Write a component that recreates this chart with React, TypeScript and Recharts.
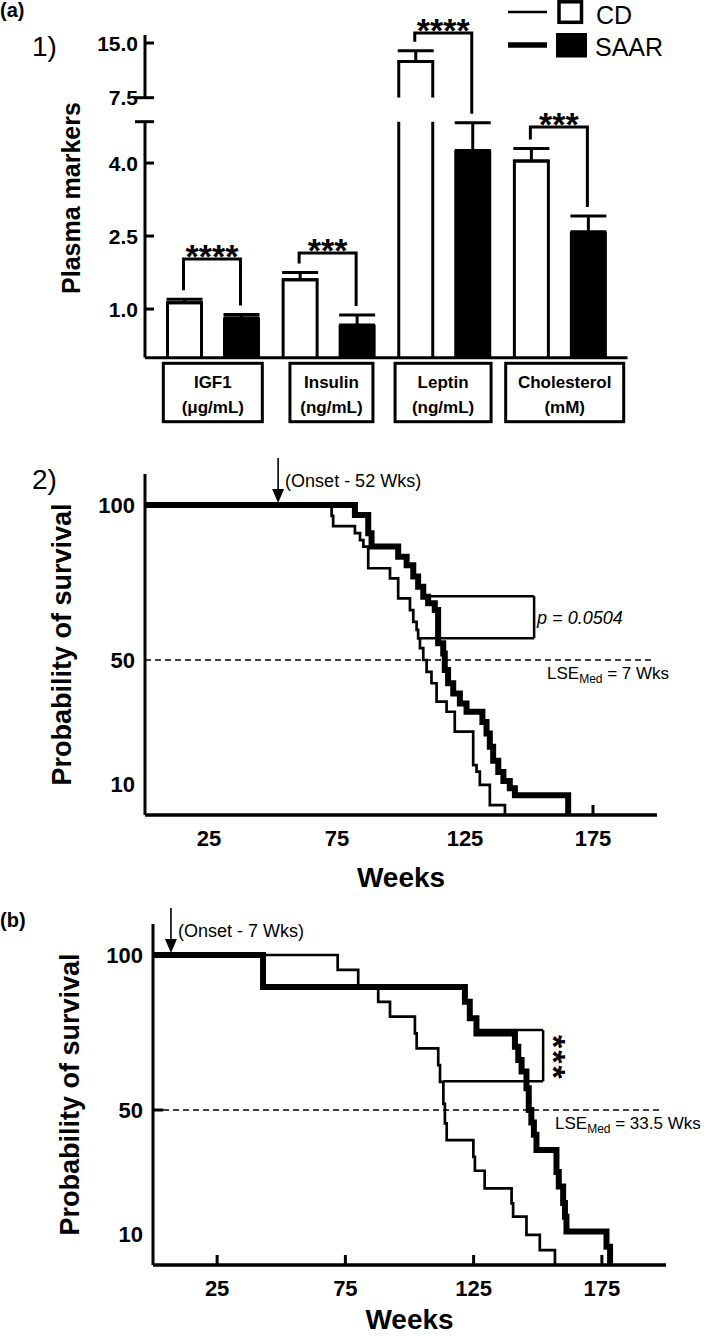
import React from "react";
import {
  BarChart,
  Bar,
  XAxis,
  YAxis,
  ErrorBar,
  LineChart,
  Line,
  ReferenceLine,
} from "recharts";

const FONT = "'Liberation Sans', Arial, Helvetica, sans-serif";
const INK = "#000";

// ---- (a) 1) plasma markers ----
const markers = ["IGF1", "Insulin", "Leptin", "Cholesterol"];
const markerUnits = ["(\u03bcg/mL)", "(ng/mL)", "(ng/mL)", "(mM)"];
const cdMean = [1.13, 1.6, 12.46, 4.04];
const cdErr = [0.07, 0.15, 1.48, 0.26];
const saarMean = [0.82, 0.67, 4.26, 2.59];
const saarErr = [0.07, 0.21, 0.57, 0.32];
const sigStars = ["****", "***", "****", "***"];
const upperTicks = [7.5, 15];
const lowerTicks = [1, 2.5, 4];

// ---- (a) 2) survival, onset at 52 wks ----
const a2CdWeeks = [0, 72.9, 73.5, 82, 84, 85.3, 87.2, 95.7, 98.9, 103.5, 104.8, 106.1, 106.7, 107.4, 108.7, 110, 111.9, 113.9, 117.8, 121, 128.2, 129.5, 130.8, 134.7, 140.6];
const a2CdSurv = [100, 96.5, 93.2, 90.9, 88.7, 86.6, 79.6, 76.3, 69.9, 66.1, 62.3, 59.7, 57, 53.8, 50, 46.2, 42.5, 36.6, 33.3, 26.9, 16.1, 14, 9.7, 3.2, 0];
const a2SaarWeeks = [0, 82, 87.2, 88.5, 98.9, 102.2, 104.8, 106.7, 108.7, 110.6, 113.2, 114.5, 116.5, 117.1, 118.4, 120.4, 123, 125.6, 131.8, 133.4, 134.7, 136, 138, 140, 142.5, 144.5, 165.3];
const a2SaarSurv = [100, 96.8, 90.9, 86.6, 83.3, 80.6, 76.9, 73.6, 70.4, 68.3, 66.1, 55.4, 52.1, 46.8, 42.5, 39.2, 36, 33.3, 30, 26.3, 22, 17.5, 13.9, 11, 8.6, 6.4, 0];

// ---- (b) survival, onset at 7 wks ----
const bCdWeeks = [0, 72, 80, 87.8, 92.4, 102.1, 102.8, 111.2, 111.9, 113.2, 113.8, 114.5, 124.9, 125.5, 129.3, 139.8, 140.4, 145.6, 150.8, 156.7];
const bCdSurv = [100, 95.2, 89.8, 84.9, 80.1, 74.7, 69.9, 64.5, 59.1, 52, 45.7, 40.3, 34.9, 30.4, 24.7, 19.9, 15.6, 9.7, 4.8, 0];
const bSaarWeeks = [0, 42.9, 121.6, 123.5, 126.1, 141.1, 142.4, 143.7, 145.6, 146.5, 147.5, 148.5, 149.5, 157.3, 158.2, 159.9, 160.6, 161.2, 176.8, 178.2];
const bSaarSurv = [100, 89.7, 84.9, 79.6, 74.7, 70.4, 66.1, 62.4, 57, 50, 46, 42, 37.1, 30, 25.3, 20, 15.6, 10.8, 5.9, 0];

const survTicksX = [25, 75, 125, 175];
const survTicksY = [10, 50, 100];

// ---- layout ----
const W = 709;
const AX = 145; // bar chart y axis
const AR = 627.5;
const UP_TOP = 35;
const UP_BOT = 97.7;
const UP_H = 110;
const LO_TOP = 121.7;
const LO_BOT = 357.7;
const LO_H = 330;
const UP_DOMAIN: [number, number] = [7.5, 16.1];
const LO_MAX = 4.85;
const BAR_W = 37;
const BAR_GAP = 20;
const BAND_L = AX + 10;
const BAND = (AR - 10 - BAND_L) / 4;
const groupOff = Math.floor((BAND - 2 * BAR_W - BAR_GAP) / 2);
const barCx = (i: number, s: number) =>
  BAND_L + i * BAND + groupOff + BAR_W / 2 + s * (BAR_W + BAR_GAP);
const loY = (v: number) => LO_BOT - (v / LO_MAX) * (LO_BOT - LO_TOP);
const upY = (v: number) =>
  UP_BOT - ((v - UP_DOMAIN[0]) / (UP_DOMAIN[1] - UP_DOMAIN[0])) * (UP_BOT - UP_TOP);
const valY = (v: number) => (v > LO_MAX ? upY(v) : loY(v));
const bracketTop = [259, 253, 33, 127];
const boxW = [99, 83, 96, 118];
const boxDx = [0, 3, -1, 5];

const SURV_H = 440;
const SURV_MT = 34;
const SURV_MB = 5;
const SURV_XH = 60;
const P2 = { top: 440, axisX: 145, plotR: 657, onset: 52, dashTo: 198, lseX: 547, lse: "7 Wks", tickMarks: [175], yMarks: [] as number[], weeksDy: 72 };
const PB = { top: 890, axisX: 153, plotR: 666, onset: 7, dashTo: 197.6, lseX: 555, lse: "33.5 Wks", tickMarks: [25, 75, 125, 175], yMarks: [50], weeksDy: 64 };
type Panel = typeof P2;
const plotBottom = (p: Panel) => p.top + SURV_H - SURV_MB - SURV_XH;
const sX = (p: Panel, w: number) => p.axisX + (w / 200) * (p.plotR - p.axisX);
const sY = (p: Panel, v: number) =>
  plotBottom(p) - (v / 110) * (SURV_H - SURV_MB - SURV_XH - SURV_MT);

const rows = markers.map((name, i) => ({
  name,
  cd: cdMean[i],
  saar: saarMean[i],
  cdErr: cdMean[i] > LO_MAX ? null : [0, cdErr[i]],
  saarErr: [0, saarErr[i]],
}));
const upperRows = markers.map((name, i) => ({
  name,
  cd: cdMean[i] > UP_DOMAIN[0] ? cdMean[i] : null,
  saar: saarMean[i] > UP_DOMAIN[0] ? saarMean[i] : null,
  cdErr: cdMean[i] > UP_DOMAIN[0] ? [0, cdErr[i]] : null,
}));
const toSeries = (weeks: number[], surv: number[]) =>
  weeks.map((w, i) => ({ w, s: surv[i] }));

const OpenBar = (props: any) => {
  const { x, y, width, height } = props;
  if (height == null || !(height > 0)) return null;
  const l = x + 1.5;
  const r = x + width - 1.5;
  const b = y + height;
  return (
    <path
      d={`M${l},${b}L${l},${y}L${r},${y}L${r},${b}`}
      fill="#fff"
      stroke={INK}
      strokeWidth={3}
    />
  );
};

const BarYTick = (props: any) => {
  const { x, y, payload, stubs } = props;
  const v = payload.value;
  const isStub = stubs.includes(v);
  const label = v === LO_MAX ? "" : v.toFixed(1);
  return (
    <g>
      <line x1={isStub ? x - 10 : x} x2={x + 9} y1={y} y2={y} stroke={INK} strokeWidth={3} />
      <text x={x - 7} y={y + 7.5} textAnchor="end" fontFamily={FONT} fontWeight="bold" fontSize={21} fill={INK}>
        {label}
      </text>
    </g>
  );
};

const MarkerTick = (props: any) => {
  const { x, y, index } = props;
  const cx = x + boxDx[index];
  const w = boxW[index];
  return (
    <g>
      <rect x={cx - w / 2} y={y + 5.6} width={w} height={58.4} fill="#fff" stroke={INK} strokeWidth={3} />
      <text x={cx} y={y + 30} textAnchor="middle" fontFamily={FONT} fontWeight="bold" fontSize={17} fill={INK}>
        {markers[index]}
      </text>
      <text x={cx} y={y + 55} textAnchor="middle" fontFamily={FONT} fontWeight="bold" fontSize={17} fill={INK}>
        {markerUnits[index]}
      </text>
    </g>
  );
};

const SurvXTick = (props: any) => {
  const { x, y, payload, marks } = props;
  return (
    <g>
      {marks.includes(payload.value) && (
        <line x1={x} x2={x} y1={y} y2={y - 10} stroke={INK} strokeWidth={3} />
      )}
      <text x={x} y={y + 31} textAnchor="middle" fontFamily={FONT} fontWeight="bold" fontSize={22} fill={INK}>
        {payload.value}
      </text>
    </g>
  );
};

const SurvYTick = (props: any) => {
  const { x, y, payload, marks } = props;
  return (
    <g>
      {marks.includes(payload.value) && (
        <line x1={x} x2={x + 10} y1={y} y2={y} stroke={INK} strokeWidth={3} />
      )}
      <text x={x - 10} y={y + 8} textAnchor="end" fontFamily={FONT} fontWeight="bold" fontSize={22} fill={INK}>
        {payload.value}
      </text>
    </g>
  );
};

const SurvivalChart = ({ p, cd, saar, box }: { p: Panel; cd: any[]; saar: any[]; box: number[] }) => {
  const [top, bottom, xTop, xBottom, xRight] = box;
  const seg = { stroke: INK, strokeWidth: 2.5 };
  return (
    <div style={{ position: "absolute", left: 0, top: p.top }}>
      <LineChart
        width={W}
        height={SURV_H}
        margin={{ top: SURV_MT, right: W - p.plotR, bottom: SURV_MB, left: p.axisX - 60 }}
      >
        <XAxis
          type="number"
          dataKey="w"
          domain={[0, 200]}
          ticks={survTicksX}
          height={SURV_XH}
          axisLine={{ stroke: INK, strokeWidth: 3.5 }}
          tickLine={false}
          tickSize={0}
          tickMargin={0}
          tick={(tp: any) => <SurvXTick {...tp} marks={p.tickMarks} />}
        />
        <YAxis
          type="number"
          domain={[0, 110]}
          ticks={survTicksY}
          width={60}
          axisLine={{ stroke: INK, strokeWidth: 3 }}
          tickLine={false}
          tickSize={0}
          tickMargin={0}
          tick={(tp: any) => <SurvYTick {...tp} marks={p.yMarks} />}
        />
        <ReferenceLine
          segment={[{ x: 0, y: 50 }, { x: p.dashTo, y: 50 }]}
          stroke={INK}
          strokeWidth={1.6}
          strokeDasharray="6 4"
        />
        <ReferenceLine segment={[{ x: xTop, y: top }, { x: xRight, y: top }]} {...seg} />
        <ReferenceLine segment={[{ x: xRight, y: top }, { x: xRight, y: bottom }]} {...seg} />
        <ReferenceLine segment={[{ x: xBottom, y: bottom }, { x: xRight, y: bottom }]} {...seg} />
        <Line
          data={cd}
          dataKey="s"
          type="stepAfter"
          stroke={INK}
          strokeWidth={2.7}
          strokeLinejoin="miter"
          dot={false}
          isAnimationActive={false}
        />
        <Line
          data={saar}
          dataKey="s"
          type="stepAfter"
          stroke={INK}
          strokeWidth={6}
          strokeLinejoin="miter"
          dot={false}
          isAnimationActive={false}
        />
      </LineChart>
    </div>
  );
};

const SurvivalNotes = ({ p }: { p: Panel }) => {
  const ax = sX(p, p.onset);
  const y100 = sY(p, 100);
  const midX = (p.axisX + p.plotR) / 2;
  return (
    <g fontFamily={FONT} fill={INK}>
      <line x1={ax} x2={ax} y1={y100 - 47} y2={y100 - 14} stroke={INK} strokeWidth={1.6} />
      <polygon points={`${ax - 6},${y100 - 16} ${ax + 6},${y100 - 16} ${ax},${y100 - 2}`} fill={INK} />
      <text x={ax + 7} y={y100 - 18} fontSize={18}>
        {`(Onset - ${p.onset} Wks)`}
      </text>
      <text x={p.lseX} y={sY(p, 50) + 19} fontSize={17}>
        LSE
        <tspan fontSize={12} dy={4}>Med</tspan>
        <tspan dy={-4}>{` = ${p.lse}`}</tspan>
      </text>
      <text
        transform={`translate(${p.axisX - 74.5}, ${sY(p, 55)}) rotate(-90)`}
        textAnchor="middle"
        fontSize={27}
        fontWeight="bold"
      >
        Probability of survival
      </text>
      <text x={midX} y={plotBottom(p) + p.weeksDy} textAnchor="middle" fontSize={28} fontWeight="bold">
        Weeks
      </text>
    </g>
  );
};

const App = () => {
  const starFs = 34;
  const bStarX = sX(PB, 159.3);
  const bStarY = sY(PB, 66.8);
  return (
    <div
      style={{
        position: "absolute",
        left: 0,
        top: 0,
        width: W,
        height: 1336,
        overflow: "hidden",
        background: "#fff",
        fontFamily: FONT,
      }}
    >
      {/* (a) 1) upper part of the broken axis */}
      <div style={{ position: "absolute", left: 0, top: 0 }}>
        <BarChart
          width={W}
          height={UP_H}
          data={upperRows}
          margin={{ top: UP_TOP, right: W - AR, bottom: UP_H - UP_BOT, left: AX - 60 }}
          barSize={BAR_W}
          barGap={BAR_GAP}
        >
          <XAxis dataKey="name" hide padding={{ left: 10, right: 10 }} />
          <YAxis
            width={60}
            domain={UP_DOMAIN}
            allowDataOverflow
            ticks={upperTicks}
            axisLine={{ stroke: INK, strokeWidth: 3 }}
            tickLine={false}
            tickSize={0}
            tickMargin={0}
            tick={(tp: any) => <BarYTick {...tp} stubs={[7.5]} />}
          />
          <Bar dataKey="cd" shape={OpenBar} isAnimationActive={false}>
            <ErrorBar dataKey="cdErr" width={18} strokeWidth={3} stroke={INK} />
          </Bar>
          <Bar dataKey="saar" fill={INK} isAnimationActive={false} />
        </BarChart>
      </div>

      {/* (a) 1) lower part */}
      <div style={{ position: "absolute", left: 0, top: UP_H }}>
        <BarChart
          width={W}
          height={LO_H}
          data={rows}
          margin={{ top: LO_TOP - UP_H, right: W - AR, bottom: 2, left: AX - 60 }}
          barSize={BAR_W}
          barGap={BAR_GAP}
        >
          <XAxis
            dataKey="name"
            padding={{ left: 10, right: 10 }}
            height={LO_H - 2 - (LO_BOT - UP_H)}
            interval={0}
            axisLine={{ stroke: INK, strokeWidth: 3 }}
            tickLine={false}
            tickSize={0}
            tickMargin={0}
            tick={(tp: any) => <MarkerTick {...tp} />}
          />
          <YAxis
            width={60}
            domain={[0, LO_MAX]}
            allowDataOverflow
            ticks={[...lowerTicks, LO_MAX]}
            axisLine={{ stroke: INK, strokeWidth: 3 }}
            tickLine={false}
            tickSize={0}
            tickMargin={0}
            tick={(tp: any) => <BarYTick {...tp} stubs={[LO_MAX]} />}
          />
          <Bar dataKey="cd" shape={OpenBar} isAnimationActive={false}>
            <ErrorBar dataKey="cdErr" width={18} strokeWidth={3} stroke={INK} />
          </Bar>
          <Bar dataKey="saar" fill={INK} isAnimationActive={false}>
            <ErrorBar dataKey="saarErr" width={18} strokeWidth={3} stroke={INK} />
          </Bar>
        </BarChart>
      </div>

      <SurvivalChart
        p={P2}
        cd={toSeries(a2CdWeeks, a2CdSurv)}
        saar={toSeries(a2SaarWeeks, a2SaarSurv)}
        box={[70.6, 57, 110.6, 107.4, 152]}
      />
      <SurvivalChart
        p={PB}
        cd={toSeries(bCdWeeks, bCdSurv)}
        saar={toSeries(bSaarWeeks, bSaarSurv)}
        box={[75.8, 59.3, 126.1, 113.2, 152.1]}
      />

      {/* text, legend and significance marks */}
      <svg
        width={W}
        height={1336}
        style={{ position: "absolute", left: 0, top: 0, pointerEvents: "none" }}
      >
        <g fontFamily={FONT} fill={INK}>
          <text x={0} y={17} fontSize={20} fontWeight="bold">(a)</text>
          <text x={32} y={56} fontSize={28}>1)</text>
          <text x={32} y={P2.top + 49} fontSize={28}>2)</text>
          <text x={0} y={PB.top + 37} fontSize={20} fontWeight="bold">(b)</text>
          <text
            transform={`translate(80, 198) rotate(-90)`}
            textAnchor="middle"
            fontSize={25}
            fontWeight="bold"
          >
            Plasma markers
          </text>

          {/* legend */}
          <line x1={508} x2={547} y1={12} y2={12} stroke={INK} strokeWidth={2.5} />
          <rect x={559} y={1.8} width={22.5} height={20.5} fill="#fff" stroke={INK} strokeWidth={3.5} />
          <text x={596} y={24} fontSize={25}>CD</text>
          <line x1={508} x2={547} y1={45} y2={45} stroke={INK} strokeWidth={5.5} />
          <rect x={556} y={33} width={31} height={24.5} fill={INK} />
          <text x={595} y={56} fontSize={25}>SAAR</text>

          {/* significance brackets */}
          {markers.map((m, i) => {
            const xl = barCx(i, 0);
            const xr = barCx(i, 1);
            const t = bracketTop[i];
            const yl = valY(cdMean[i] + cdErr[i]) - 9;
            const yr = valY(saarMean[i] + saarErr[i]) - 9;
            return (
              <g key={m}>
                <path
                  d={`M${xl},${yl}L${xl},${t}L${xr},${t}L${xr},${yr}`}
                  fill="none"
                  stroke={INK}
                  strokeWidth={3}
                />
                <text
                  x={(xl + xr) / 2}
                  y={t - 11 + 0.58 * starFs}
                  textAnchor="middle"
                  fontSize={starFs}
                  fontWeight="bold"
                >
                  {sigStars[i]}
                </text>
              </g>
            );
          })}

          <SurvivalNotes p={P2} />
          <SurvivalNotes p={PB} />

          <text x={sX(P2, 152) + 3} y={sY(P2, 63.8) + 6.5} fontSize={18} fontStyle="italic">
            p = 0.0504
          </text>
          <text
            transform={`translate(${bStarX - 0.58 * starFs}, ${bStarY}) rotate(90)`}
            textAnchor="middle"
            fontSize={starFs}
            fontWeight="bold"
            letterSpacing={2}
          >
            ***
          </text>
        </g>
      </svg>
    </div>
  );
};

export default App;
